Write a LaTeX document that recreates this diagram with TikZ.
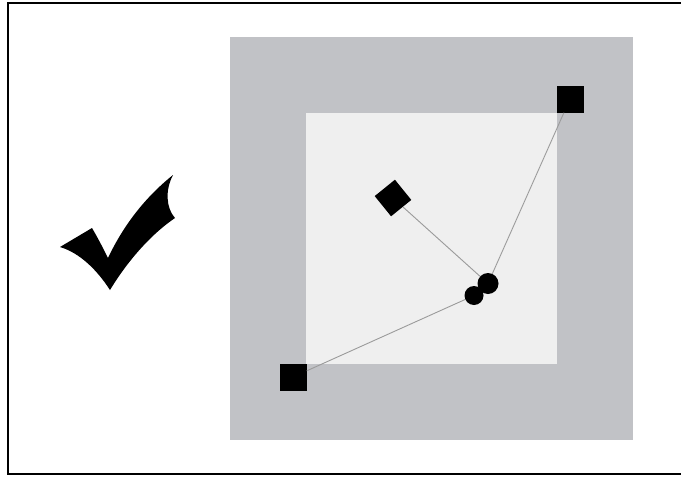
\documentclass[tikz,border=0pt]{standalone}
\definecolor{outergray}{HTML}{C1C2C6}
\definecolor{innergray}{HTML}{EFEFEF}
\definecolor{linkgray}{HTML}{9A9A9A}
\begin{document}
\begin{tikzpicture}[x=1pt,y=-1pt,
  sq/.style={draw=none,fill=black,minimum size=27pt,inner sep=0pt,shape=rectangle},
  dot/.style={circle,fill=black,inner sep=0pt,minimum size=21pt},
  link/.style={draw=linkgray,line width=0.9pt}]
\useasboundingbox (0,0) rectangle (681,477);
\begin{scope}
\clip (0,0) rectangle (681,477);
\draw[line width=2.4pt] (8,3) rectangle (690,474);
\end{scope}
\fill[outergray] (230,37) rectangle (633,440);
\fill[innergray] (306,113) rectangle (557,364);
% check mark
\fill[black] (60,247) -- (92,228) .. controls (99,240) and (104,250) .. (108,258)
  .. controls (125,222) and (148,195) .. (173,175)
  .. controls (165,190) and (166,208) .. (175,218)
  .. controls (150,235) and (127,262) .. (110,290)
  .. controls (97,270) and (80,253) .. (60,247) -- cycle;
\node[sq] (bl) at (293,377) {};
\node[sq] (tr) at (570,99) {};
\node[sq,rotate=39,minimum size=26pt] (dm) at (393,198) {};
\node[dot] (c1) at (488,283.5) {};
\node[dot,minimum size=19pt] (c2) at (474,295.5) {};
\draw[link] (dm) -- (c1);
\draw[link] (tr) -- (c1);
\draw[link] (bl) -- (c2);
\end{tikzpicture}
\end{document}
